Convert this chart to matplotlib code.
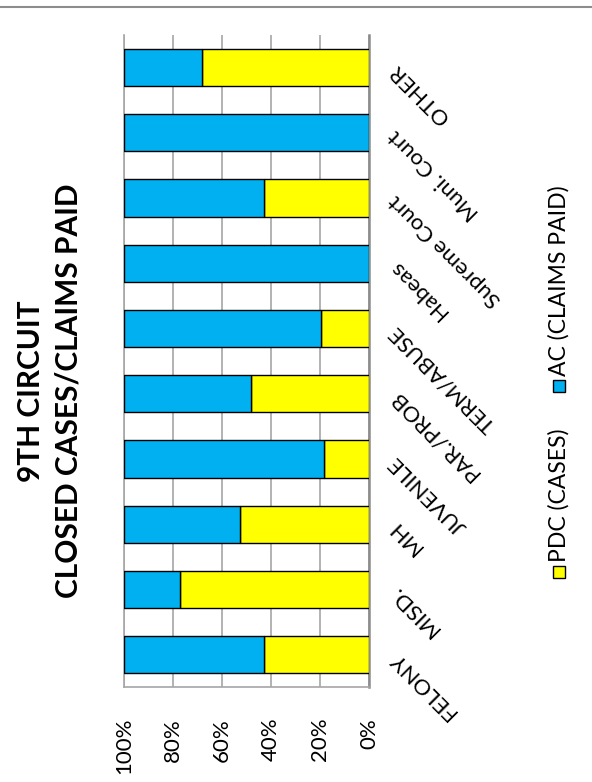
import numpy as np
import matplotlib
matplotlib.use("Agg")
import matplotlib.pyplot as plt
from matplotlib.patches import Rectangle
from matplotlib.lines import Line2D

plt.rcParams['font.family'] = ['Lato', 'DejaVu Sans']

categories = ["FELONY", "MISD.", "MH", "JUVENILE", "PAR./PROB", "TERM/ABUSE",
              "Habeas", "Supreme Court", "Muni. Court", "OTHER"]
pdc_cases = [42.9, 77.2, 52.7, 18.5, 48.1, 19.8, 0.0, 42.8, 0.0, 68.2]
ac_claims = [100 - v for v in pdc_cases]
ticks = [0, 20, 40, 60, 80, 100]
tick_labels = ["0%", "20%", "40%", "60%", "80%", "100%"]

yellow = "#FFFF00"
blue = "#00B0F0"
grey = "#A6A6A6"

fig = plt.figure(figsize=(5.92, 7.82), dpi=100)
ax = fig.add_axes([124 / 592, 1 - 687.3 / 782, 245.3 / 592, 652.3 / 782])

pos = np.arange(len(categories))
ax.barh(pos, pdc_cases, height=0.57, color=yellow, edgecolor="black", linewidth=1.0, zorder=3)
ax.barh(pos, ac_claims, left=pdc_cases, height=0.57, color=blue, edgecolor="black", linewidth=1.0, zorder=3)

ax.set_xlim(100, 0)
ax.set_ylim(-0.5, len(categories) - 0.5)
ax.set_xticks(ticks)
ax.set_xticklabels(tick_labels, rotation=90, fontsize=16, va="top")
ax.tick_params(axis="x", length=0, pad=22)
ax.set_yticks([])
ax.grid(axis="x", color=grey, linewidth=1.2, zorder=0)
ax.set_axisbelow(True)
ax.spines["top"].set_visible(False)
for s in ["left", "bottom"]:
    ax.spines[s].set_color(grey)
    ax.spines[s].set_linewidth(1.2)
ax.spines["right"].set_color("#8C8C8C")
ax.spines["right"].set_linewidth(1.8)

# category labels, right side
trans = ax.get_yaxis_transform()
for i, lab in enumerate(categories):
    ax.text(1.095, pos[i], lab, transform=trans, rotation=135, rotation_mode="anchor",
            ha="right", va="center", fontsize=16, clip_on=False)

# title
fig.text(50 / 592, 1 - 391 / 782, "9TH CIRCUIT\nCLOSED CASES/CLAIMS PAID", rotation=90,
         ha="center", va="center", fontsize=21.5, fontweight="bold", linespacing=1.4,
         multialignment="center")

# legend
for y0, col, lab in [(572, yellow, "PDC (CASES)"), (386, blue, "AC (CLAIMS PAID)")]:
    fig.add_artist(Rectangle((553 / 592, 1 - (y0 + 6) / 782), 12 / 592, 12 / 782,
                             facecolor=col, edgecolor="black", linewidth=1.0,
                             transform=fig.transFigure))
    fig.text(559 / 592, 1 - (y0 - 10) / 782, lab, rotation=90, ha="center", va="bottom",
             fontsize=16.5)

fig.add_artist(Line2D([0, 1], [1 - 7 / 782, 1 - 7 / 782], color="#8C8C8C", linewidth=1.5,
                      transform=fig.transFigure))

fig.savefig("out.png", dpi=100)
